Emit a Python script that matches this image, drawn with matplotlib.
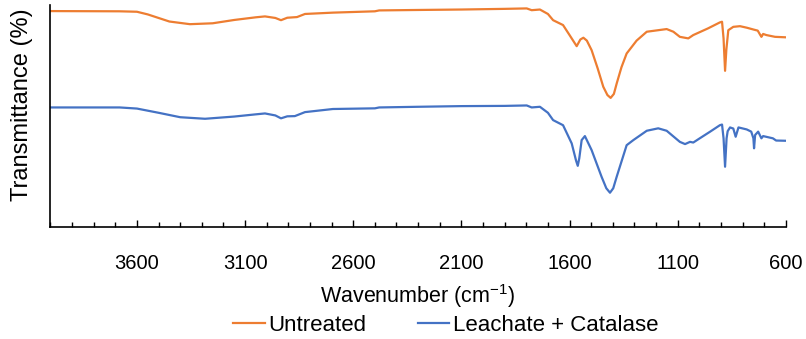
import matplotlib.pyplot as plt
from matplotlib.ticker import MultipleLocator

plt.rcParams['font.family'] = ['Liberation Sans', 'DejaVu Sans']
plt.rcParams['mathtext.default'] = 'regular'

# wavenumber (cm-1) and transmittance (arbitrary offset units)
wn_untreated = [4000, 3680, 3600, 3550, 3450, 3355, 3250, 3150, 3050, 3008, 2960, 2934,
                2905, 2860, 2823, 2694, 2500, 2480, 2300, 2100, 1900, 1798, 1775, 1737,
                1700, 1676, 1630, 1600, 1567, 1550, 1536, 1520, 1498, 1470, 1444, 1425,
                1410, 1395, 1382, 1360, 1336, 1290, 1243, 1151, 1120, 1090, 1051, 1028,
                960, 905, 895, 888, 881, 875, 866, 843, 812, 780, 750, 730, 718, 713,
                705, 690, 650, 604]
untreated = [97.3, 97.2, 97.0, 95.8, 92.6, 91.4, 91.8, 93.3, 94.5, 94.9, 94.2, 93.2,
             94.3, 94.6, 96.0, 96.6, 97.2, 97.6, 97.8, 98.0, 98.3, 98.5, 97.7, 98.0,
             96.0, 93.2, 91.0, 86.5, 81.5, 84.5, 85.3, 84.0, 79.7, 71.5, 63.2, 59.5,
             58.2, 60.0, 64.7, 72.0, 78.2, 84.0, 88.0, 89.2, 88.0, 85.7, 85.0, 86.5,
             89.5, 92.2, 92.5, 85.0, 70.4, 80.0, 88.7, 90.2, 90.5, 89.8, 89.0, 88.5,
             86.5, 85.7, 87.0, 86.5, 85.7, 85.5]

wn_catalase = [4000, 3680, 3600, 3500, 3400, 3285, 3150, 3050, 3008, 2960, 2934, 2905,
               2870, 2823, 2694, 2500, 2480, 2300, 2100, 1900, 1798, 1775, 1737, 1700,
               1676, 1630, 1590, 1570, 1562, 1555, 1544, 1529, 1498, 1452, 1430, 1413,
               1398, 1382, 1336, 1305, 1243, 1190, 1151, 1090, 1066, 1043, 1028, 998,
               950, 905, 895, 888, 881, 874, 869, 858, 843, 832, 819, 781, 760, 750,
               747, 742, 728, 713, 705, 660, 645, 604]
catalase = [53.9, 53.9, 53.4, 51.5, 49.5, 48.8, 49.8, 50.8, 51.2, 50.3, 49.0, 49.9,
            50.0, 51.8, 53.2, 53.5, 53.9, 54.2, 54.5, 54.6, 54.8, 53.9, 54.2, 51.5,
            48.2, 45.9, 37.7, 30.0, 27.6, 31.0, 39.2, 41.0, 34.7, 22.7, 17.5, 15.5,
            17.5, 22.7, 36.9, 39.2, 43.4, 44.5, 43.4, 38.4, 37.4, 38.4, 38.1, 40.0,
            43.0, 45.9, 46.2, 40.0, 27.2, 40.0, 43.2, 44.9, 44.4, 40.7, 44.9, 44.0,
            43.0, 40.0, 35.5, 41.5, 43.0, 40.0, 41.0, 40.0, 39.0, 38.9]

fig = plt.figure(figsize=(8.06, 3.39), dpi=100)
ax = fig.add_axes([0.062, 0.33, 0.913, 0.655])

ax.plot(wn_untreated, untreated, color='#ED7D31', lw=1.6, label='Untreated')
ax.plot(wn_catalase, catalase, color='#4472C4', lw=1.6, label='Leachate + Catalase')

ax.set_xlim(4002, 600)
ax.set_ylim(0, 100)
ax.xaxis.set_major_locator(MultipleLocator(500, offset=100))
ax.xaxis.set_minor_locator(MultipleLocator(100))
ax.tick_params(axis='x', which='major', direction='in', length=5, width=1,
               labelsize=14.5, pad=19, color='black')
ax.tick_params(axis='x', which='minor', direction='in', length=3.5, width=1, color='black')
ax.set_yticks([])

for s in ['top', 'right']:
    ax.spines[s].set_visible(False)
for s in ['left', 'bottom']:
    ax.spines[s].set_linewidth(1.2)
    ax.spines[s].set_color('black')

ax.set_xlabel('Wavenumber (cm$^{-1}$)', fontsize=15.5, labelpad=7)
ax.set_ylabel('Transmittance (%)', fontsize=17)
ax.yaxis.set_label_coords(-0.023, 0.55)

fig.legend(*ax.get_legend_handles_labels(), loc='center', bbox_to_anchor=(0.553, 0.041),
           ncol=2, frameon=False, fontsize=16, handlelength=1.4, handletextpad=0.15,
           columnspacing=2.35, borderpad=0)

fig.savefig('out.png', dpi=100)
